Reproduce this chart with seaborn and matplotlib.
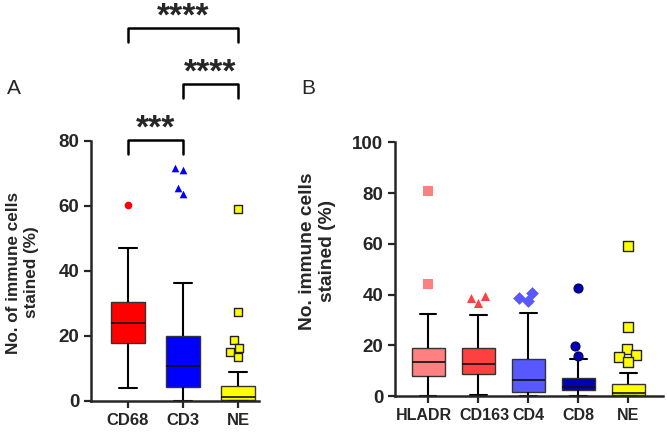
#box plots of immune cell staining, panels A and B
#boxes drawn from five-number summaries, outliers as swarms

import numpy as np
import pandas as pd
import matplotlib
matplotlib.use("Agg")
import matplotlib.pyplot as plt
import matplotlib.transforms as mtransforms
import seaborn as sns

#panel A data
cats_a = ["CD68", "CD3", "NE"]
# [whisker low, Q1, median, Q3, whisker high]
summary_a = {
    "CD68": [4.0, 17.7, 24.1, 30.4, 47.0],
    "CD3": [0.0, 4.4, 10.9, 20.0, 36.3],
    "NE": [0.0, 0.3, 1.1, 4.6, 9.0],
}
outliers_a = {
    "CD68": [60.3],
    "CD3": [71.1, 71.6, 65.4, 63.6],
    "NE": [59.1, 27.3, 18.7, 16.3, 15.0, 13.4],
}
colors_a = ["#FF0000", "#0000FF", "#FFFF00"]
markers_a = ["o", "^", "s"]

#significance brackets for panel A
comparisons = [("CD68", "CD3", "***"), ("CD3", "NE", "****"), ("CD68", "NE", "****")]

#panel B data
cats_b = ["HLADR", "CD163", "CD4", "CD8", "NE"]
summary_b = {
    "HLADR": [0.0, 8.0, 13.3, 18.8, 32.3],
    "CD163": [0.5, 8.7, 12.7, 18.8, 32.0],
    "CD4": [0.0, 1.4, 6.2, 14.6, 32.7],
    "CD8": [0.0, 2.4, 3.7, 7.2, 14.4],
    "NE": [0.0, 0.3, 1.1, 4.6, 9.0],
}
outliers_b = {
    "HLADR": [80.8, 44.1],
    "CD163": [36.7, 39.4, 38.7],
    "CD4": [40.8, 37.5, 38.7],
    "CD8": [42.6, 19.7, 15.9],
    "NE": [59.1, 27.3, 18.5, 16.3, 15.2, 13.5],
}
colors_b = ["#FF8080", "#FF4040", "#5858FF", "#0000B4", "#FFFF00"]
markers_b = ["s", "^", "D", "o", "s"]

sns.set_style("ticks")
plt.rcParams["font.family"] = ["Liberation Sans", "DejaVu Sans"]
plt.rcParams["font.weight"] = "bold"


def to_long(summary):
    rows = []
    for k, vals in summary.items():
        for v in vals:
            rows.append({"marker": k, "value": v})
    return pd.DataFrame(rows)


def draw_panel(ax, cats, summary, outliers, colors, markers, width, msize, xsize):
    df = to_long(summary)
    # with 5 values, the quartiles are exactly the summary values
    sns.boxplot(data=df, x="marker", y="value", hue="marker", order=cats,
                hue_order=cats, palette=colors, saturation=1, legend=False,
                ax=ax, whis=(0, 100), showfliers=False, width=width,
                linecolor="black", linewidth=1.5,
                boxprops={"linewidth": 1.0, "edgecolor": "#333333"},
                medianprops={"linewidth": 1.2, "color": "#111111"})
    for cat, col, mk in zip(cats, colors, markers):
        vals = outliers[cat]
        edge = "#222222" if col == "#FFFF00" else col
        lw = 1.0 if col == "#FFFF00" else 0
        if col == "#0000B4":
            edge, lw = "#000050", 0.8
        sns.swarmplot(x=[cat] * len(vals), y=vals, order=cats, color=col,
                      marker=mk, size=msize, edgecolor=edge, linewidth=lw,
                      ax=ax, clip_on=False, zorder=3)
    for s in ["top", "right"]:
        ax.spines[s].set_visible(False)
    for s in ["left", "bottom"]:
        ax.spines[s].set_linewidth(1.8)
    ax.tick_params(axis="both", direction="out", length=5, width=1.6)
    ax.tick_params(axis="y", labelsize=13.5)
    ax.tick_params(axis="x", labelsize=xsize)
    for lab in ax.get_xticklabels() + ax.get_yticklabels():
        lab.set_fontweight("bold")
    ax.set_xlabel("")


fig = plt.figure(figsize=(6.67, 4.37), dpi=100)

#panel A
ax1 = fig.add_axes([0.1364, 0.0824, 0.2519, 0.595])
draw_panel(ax1, cats_a, summary_a, outliers_a, colors_a, markers_a, 0.63, 5.5, 12)
ax1.set_xlim(-0.67, 2.38)
ax1.set_ylim(0, 80)
ax1.set_yticks([0, 20, 40, 60, 80])
ax1.set_ylabel("No. of immune cells\nstained (%)", fontsize=12.3,
               fontweight="bold")
ax1.yaxis.set_label_coords(-0.31, 0.494)

for level, (c1, c2, label) in enumerate(comparisons):
    x1, x2 = cats_a.index(c1), cats_a.index(c2)
    top = 80.4 + 17.2 * level
    ax1.plot([x1, x1, x2, x2], [top - 4.5, top, top, top - 4.5],
             color="black", lw=1.8, clip_on=False)
    ax1.text((x1 + x2) / 2, top + 0.6, label, ha="center", va="baseline",
             fontsize=24, fontweight="bold")

fig.text(0.021, 0.797, "A", fontsize=15, fontweight="normal", ha="center", va="center")

#panel B
ax2 = fig.add_axes([0.5922, 0.0938, 0.4018, 0.5805])
draw_panel(ax2, cats_b, summary_b, outliers_b, colors_b, markers_b, 0.65, 6.5, 11.5)
ax2.set_xlim(-0.667, 4.69)
ax2.set_ylim(0, 100)
ax2.set_yticks([0, 20, 40, 60, 80, 100])
ax2.set_ylabel("No. immune cells\nstained (%)", fontsize=13.8,
               fontweight="bold")
ax2.yaxis.set_label_coords(-0.22, 0.57)

# nudge the two long neighbouring labels apart, as in the original
xlabs = ax2.get_xticklabels()
for lab, dx in zip(xlabs[:2], [-4, 6]):
    lab.set_transform(lab.get_transform() +
                      mtransforms.ScaledTranslation(dx / 100, 0, fig.dpi_scale_trans))

fig.text(0.462, 0.797, "B", fontsize=15, fontweight="normal", ha="center", va="center")

fig.savefig("out.png", dpi=100)
